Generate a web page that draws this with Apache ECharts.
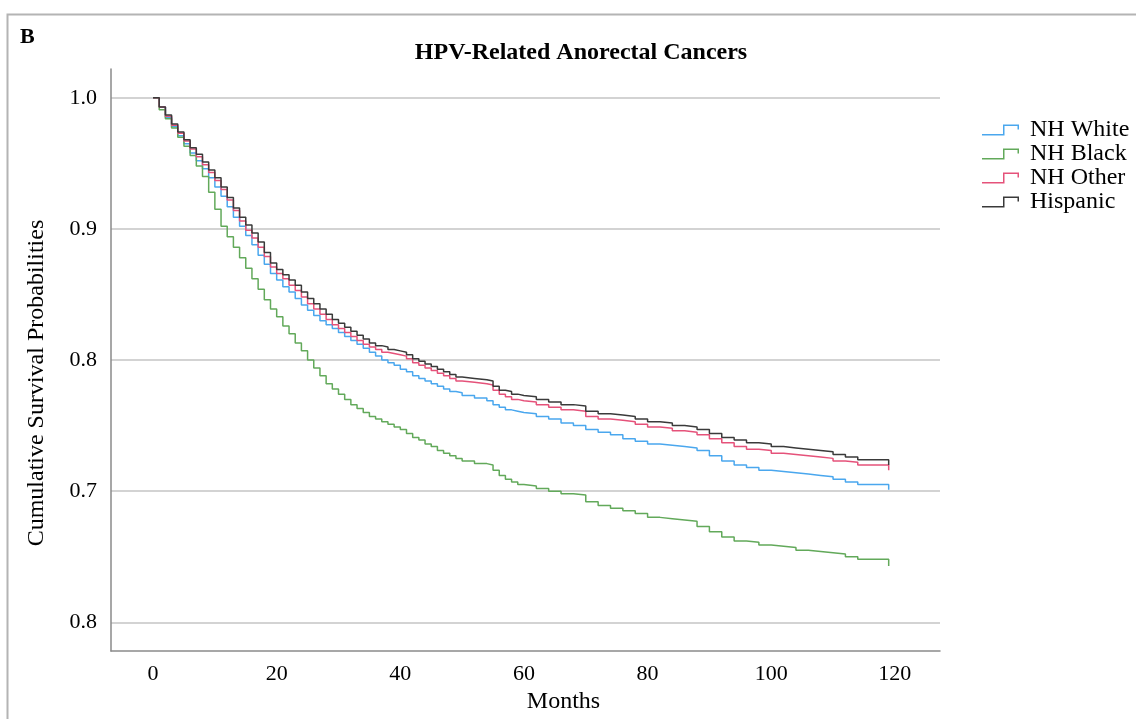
<!DOCTYPE html>
<html>
<head>
<meta charset="utf-8">
<script src="https://cdn.jsdelivr.net/npm/echarts@6/dist/echarts.min.js"></script>
<style>html,body{margin:0;padding:0;background:#fff;}#chart{width:1136px;height:719px;}</style>
</head>
<body>
<div id="chart"></div>
<script>
const months = [0,1,2,3,4,5,6,7,8,9,10,11,12,13,14,15,16,17,18,19,20,21,22,23,24,25,26,27,28,29,30,31,32,33,34,35,36,37,38,39,40,41,42,43,44,45,46,47,48,49,50,
  52,54,55,56,57,58,59,60,62,64,66,68,70,72,74,76,78,80,82,84,86,88,90,92,94,96,98,100,102,104,106,108,110,112,114,119,119];

const nhWhite = [1.000,0.993,0.985,0.978,0.971,0.965,0.958,0.952,0.946,0.939,0.932,0.925,0.917,0.909,0.902,0.895,0.888,0.880,0.873,0.866,0.861,0.856,0.852,0.847,0.842,0.838,0.834,0.830,0.827,0.824,0.821,0.818,0.815,0.812,0.809,0.806,0.803,0.800,0.798,0.796,0.793,0.791,0.788,0.786,0.784,0.782,0.780,0.778,0.776,0.775,0.773,
  0.771,0.769,0.766,0.764,0.762,0.761,0.760,0.759,0.757,0.755,0.752,0.750,0.747,0.745,0.743,0.740,0.738,0.736,0.735,0.734,0.733,0.731,0.727,0.723,0.720,0.718,0.716,0.715,0.714,0.713,0.712,0.711,0.709,0.707,0.705,0.705,0.701];

const nhBlack = [1.000,0.991,0.984,0.977,0.970,0.963,0.956,0.948,0.940,0.928,0.915,0.902,0.894,0.886,0.878,0.870,0.862,0.854,0.846,0.839,0.833,0.826,0.820,0.813,0.807,0.800,0.794,0.788,0.782,0.778,0.774,0.770,0.766,0.763,0.760,0.757,0.755,0.753,0.751,0.749,0.747,0.744,0.741,0.739,0.736,0.734,0.731,0.729,0.727,0.725,0.723,
  0.721,0.720,0.716,0.712,0.709,0.707,0.705,0.704,0.702,0.700,0.698,0.697,0.692,0.689,0.687,0.685,0.683,0.680,0.679,0.678,0.677,0.673,0.669,0.665,0.662,0.661,0.659,0.658,0.657,0.655,0.654,0.653,0.652,0.650,0.648,0.648,0.643];

const nhOther = [1.000,0.993,0.986,0.979,0.973,0.967,0.961,0.955,0.949,0.943,0.937,0.930,0.922,0.914,0.906,0.899,0.893,0.886,0.879,0.871,0.866,0.862,0.857,0.853,0.848,0.843,0.839,0.835,0.831,0.827,0.824,0.821,0.818,0.815,0.812,0.810,0.808,0.806,0.805,0.804,0.803,0.801,0.798,0.796,0.794,0.792,0.790,0.788,0.786,0.784,0.783,
  0.782,0.781,0.777,0.774,0.772,0.770,0.769,0.768,0.766,0.764,0.762,0.761,0.757,0.755,0.754,0.753,0.751,0.749,0.748,0.746,0.745,0.743,0.740,0.737,0.734,0.732,0.731,0.729,0.728,0.727,0.726,0.725,0.723,0.722,0.720,0.720,0.716];

const hispanic = [1.000,0.993,0.987,0.980,0.974,0.968,0.962,0.957,0.951,0.945,0.939,0.932,0.924,0.916,0.909,0.903,0.897,0.890,0.882,0.874,0.869,0.865,0.861,0.857,0.852,0.847,0.843,0.839,0.835,0.831,0.828,0.825,0.822,0.819,0.816,0.813,0.811,0.810,0.808,0.807,0.806,0.804,0.801,0.799,0.797,0.795,0.793,0.791,0.789,0.787,0.786,
  0.785,0.784,0.780,0.777,0.776,0.774,0.773,0.772,0.770,0.768,0.766,0.765,0.761,0.759,0.758,0.757,0.755,0.753,0.752,0.750,0.749,0.747,0.744,0.741,0.739,0.737,0.736,0.734,0.733,0.732,0.731,0.730,0.728,0.726,0.724,0.724,0.720];

const seriesNames = ['NH White','NH Black','NH Other','Hispanic'];
const seriesColors = ['#4aa7ee','#62a95a','#e5527a','#3a3a3a'];
const xTicks = [0,20,40,60,80,100,120];
const yTicks = [0.6,0.7,0.8,0.9,1.0];
const yTickLabels = ['0.8','0.7','0.8','0.9','1.0'];

const serif = '"Liberation Serif","Times New Roman",serif';
const allValues = [nhWhite, nhBlack, nhOther, hispanic];
const stepIcon = 'path://M0,9.5 L21,9.5 L21,0 L37,0 L37,5 L35.5,5 L35.5,1.5 L22.5,1.5 L22.5,11 L0,11 Z';

const chart = echarts.init(document.getElementById('chart'), null, {renderer:'canvas'});
chart.setOption({
  animation: false,
  backgroundColor: '#fff',
  graphic: [{
    type: 'rect', left: 5, top: 12, z: -10, silent: true,
    shape: {x: 0, y: 0, width: 1200, height: 800},
    style: {fill: 'none', stroke: '#b4b4b4', lineWidth: 2}
  }],
  title: [
    {text: 'B', left: 20, top: 26, padding: 0, textStyle: {fontFamily: serif, fontWeight: 'bold', fontSize: 22, color: '#000'}},
    {text: 'HPV-Related Anorectal Cancers', left: 581, textAlign: 'center', top: 41, padding: 0,
     textStyle: {fontFamily: serif, fontWeight: 'bold', fontSize: 24, color: '#000'}}
  ],
  legend: {
    orient: 'vertical', left: 982, top: 118, itemGap: 0, padding: 0,
    itemWidth: 37, itemHeight: 11, icon: stepIcon,
    textStyle: {fontFamily: serif, fontSize: 24, color: '#000', padding: [0,0,0,6], lineHeight: 23},
    data: seriesNames
  },
  grid: {left: 111, top: 69, right: 196, bottom: 64},
  xAxis: {
    type: 'value', min: -6.8, max: 127.3,
    name: 'Months', nameLocation: 'middle', nameGap: 38,
    nameTextStyle: {fontFamily: serif, fontSize: 24, color: '#000', padding: [0,0,0,76]},
    axisLine: {onZero: false, lineStyle: {color: '#8a8a8a', width: 1.5}},
    axisTick: {show: false, customValues: xTicks},
    axisLabel: {customValues: xTicks, margin: 12, fontFamily: serif, fontSize: 22, color: '#000'},
    splitLine: {show: false}
  },
  yAxis: {
    type: 'value', min: 0.578, max: 1.022,
    name: 'Cumulative Survival Probabilities', nameLocation: 'middle', nameGap: 62,
    nameTextStyle: {fontFamily: serif, fontSize: 24, color: '#000', padding: [0,46,0,0]},
    axisLine: {show: true, onZero: false, lineStyle: {color: '#8a8a8a', width: 1.5}},
    axisTick: {show: false, customValues: yTicks},
    axisLabel: {customValues: yTicks, margin: 14, fontFamily: serif, fontSize: 22, color: '#000',
      formatter: function (v) { const i = yTicks.findIndex(t => Math.abs(t - v) < 1e-6); return i >= 0 ? yTickLabels[i] : ''; }},
    splitLine: {show: true, lineStyle: {color: '#c4c4c4', width: 1.5}}
  },
  series: seriesNames.map((name, k) => ({
    name: name, type: 'line', step: 'end', showSymbol: false, symbol: 'none',
    color: seriesColors[k],
    lineStyle: {color: seriesColors[k], width: 1.5},
    data: months.map((m, i) => [m, allValues[k][i]])
  }))
});
</script>
</body>
</html>
